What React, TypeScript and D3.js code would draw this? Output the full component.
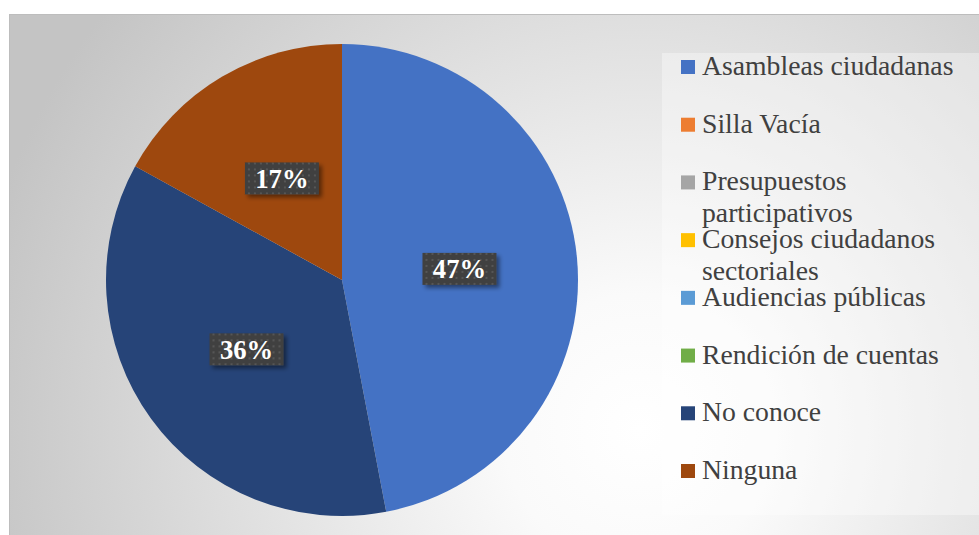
import React, { useRef, useEffect } from 'react';
import * as d3 from 'd3';

const categories = [
  'Asambleas ciudadanas',
  'Silla Vacía',
  'Presupuestos participativos',
  'Consejos ciudadanos sectoriales',
  'Audiencias públicas',
  'Rendición de cuentas',
  'No conoce',
  'Ninguna',
];
const values = [47, 0, 0, 0, 0, 0, 36, 17];
const colors = ['#4472C4', '#ED7D31', '#A5A5A5', '#FFC000', '#5B9BD5', '#70AD47', '#264478', '#9E480E'];
// legend text as drawn (wrapped lines)
const legendLines = [
  ['Asambleas ciudadanas'],
  ['Silla Vacía'],
  ['Presupuestos', 'participativos'],
  ['Consejos ciudadanos', 'sectoriales'],
  ['Audiencias públicas'],
  ['Rendición de cuentas'],
  ['No conoce'],
  ['Ninguna'],
];

const SERIF = 'Liberation Serif';

export default function App() {
  const svgRef = useRef<SVGSVGElement>(null);

  useEffect(() => {
    if (!svgRef.current) return;
    const width = 979;
    const height = 535;
    const svg = d3.select(svgRef.current);
    svg.selectAll('*').remove();
    svg.attr('width', width).attr('height', height);

    const defs = svg.append('defs');
    const bg = defs.append('radialGradient')
      .attr('id', 'bg')
      .attr('gradientUnits', 'userSpaceOnUse')
      .attr('cx', 640).attr('cy', 430).attr('r', 680);
    bg.append('stop').attr('offset', '0%').attr('stop-color', '#ffffff');
    bg.append('stop').attr('offset', '20%').attr('stop-color', '#fafafa');
    bg.append('stop').attr('offset', '100%').attr('stop-color', '#c4c4c4');

    const dots = defs.append('pattern')
      .attr('id', 'dots')
      .attr('patternUnits', 'userSpaceOnUse')
      .attr('width', 6).attr('height', 6);
    dots.append('rect').attr('width', 6).attr('height', 6).attr('fill', '#404040');
    dots.append('rect').attr('x', 2).attr('y', 2).attr('width', 2).attr('height', 2).attr('fill', '#575757');

    const shadow = defs.append('filter').attr('id', 'shadow')
      .attr('x', '-20%').attr('y', '-30%').attr('width', '150%').attr('height', '170%');
    shadow.append('feDropShadow')
      .attr('dx', 3).attr('dy', 3).attr('stdDeviation', 2)
      .attr('flood-color', '#000').attr('flood-opacity', 0.45);

    // chart area
    svg.append('rect')
      .attr('x', 9.5).attr('y', 14.5)
      .attr('width', 980).attr('height', 530)
      .attr('fill', 'url(#bg)')
      .attr('stroke', '#bdbdbd');

    // legend box
    svg.append('rect')
      .attr('x', 662).attr('y', 53)
      .attr('width', 317).attr('height', 462)
      .attr('fill', '#ffffff').attr('opacity', 0.35);

    const cx = 342, cy = 280, R = 236;
    const g = svg.append('g').attr('transform', `translate(${cx},${cy})`);

    const data = categories.map((c, i) => ({ name: c, value: values[i], color: colors[i] }));
    const pie = d3.pie<any>().value(d => d.value).sort(null);
    const arcs = pie(data);
    const arc = d3.arc<any>().innerRadius(0).outerRadius(R);
    const labelArc = d3.arc<any>().innerRadius(R / 2).outerRadius(R / 2);

    g.selectAll('path.slice')
      .data(arcs.filter(a => a.data.value > 0))
      .enter()
      .append('path')
      .attr('class', 'slice')
      .attr('d', arc)
      .attr('fill', d => d.data.color);

    const labels = g.selectAll('g.lbl')
      .data(arcs.filter(a => a.data.value > 0))
      .enter()
      .append('g')
      .attr('class', 'lbl')
      .attr('transform', d => {
        const [x, y] = labelArc.centroid(d);
        return `translate(${x},${y})`;
      });

    labels.append('rect')
      .attr('x', -37).attr('y', -16)
      .attr('width', 74).attr('height', 32)
      .attr('fill', 'url(#dots)')
      .attr('filter', 'url(#shadow)');

    labels.append('text')
      .attr('text-anchor', 'middle')
      .attr('dy', '0.35em')
      .attr('font-family', SERIF)
      .attr('font-size', 26.67)
      .attr('font-weight', 'bold')
      .attr('fill', '#ffffff')
      .text(d => `${d.data.value}%`);

    // legend
    const legend = svg.append('g').attr('transform', 'translate(681,0)');
    const rowY = d3.scaleLinear().domain([0, categories.length - 1]).range([67, 471]);
    const items = legend.selectAll('g.item')
      .data(data)
      .enter()
      .append('g')
      .attr('class', 'item')
      .attr('transform', (d, i) => `translate(0,${rowY(i)})`);

    items.append('rect')
      .attr('x', 0).attr('y', -7)
      .attr('width', 14).attr('height', 14)
      .attr('fill', d => d.color);

    items.append('text')
      .attr('x', 21)
      .attr('y', 8)
      .attr('font-family', SERIF)
      .attr('font-size', 27.7)
      .attr('fill', '#404040')
      .each(function (d, i) {
        const t = d3.select(this);
        legendLines[i].forEach((line, k) => {
          t.append('tspan').attr('x', 21).attr('dy', k === 0 ? 0 : 32).text(line);
        });
      });
  }, []);

  return (
    <div style={{ position: 'absolute', left: 0, top: 0 }}>
      <svg ref={svgRef} style={{ display: 'block' }} />
    </div>
  );
}
